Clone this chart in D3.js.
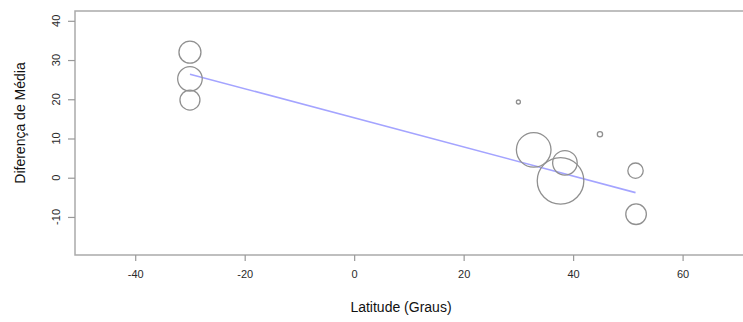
<!DOCTYPE html>
<html>
<head>
<meta charset="utf-8">
<script src="https://cdn.jsdelivr.net/npm/d3@7"></script>
<style>
  body { margin: 0; background: #fff; }
  svg { display: block; font-family: "Liberation Sans", Arial, sans-serif; }
</style>
</head>
<body>
<svg id="chart" width="743" height="322"></svg>
<script>
// estudos: latitude, diferença de média, tamanho (peso)
const latitude = [-30, -30, -30, 30, 32.8, 38.5, 37.7, 44.9, 51.4, 51.5];
const diferenca = [32, 25.2, 19.8, 19.3, 7.1, 3.8, -0.8, 11.1, 1.8, -9.3];
const peso = [121, 151, 100, 4, 300, 151, 543, 7, 59, 106];
const xTicks = [-40, -20, 0, 20, 40, 60];
const yTicks = [-10, 0, 10, 20, 30, 40];
const regLat = [-30, 51.4];
const regDif = [26.4, -3.8];

const svg = d3.select('#chart');
const mLeft = 75, mRight = 745, mTop = 11, mBottom = 255;

const x = d3.scaleLinear().domain([-51, 71.4]).range([mLeft, mRight]);
const y = d3.scaleLinear().domain([-19.7, 42.5]).range([mBottom, mTop]);
const r = d3.scaleSqrt().domain([0, d3.max(peso)]).range([0, 23.3]);

// box
svg.append('rect')
  .attr('x', mLeft).attr('y', mTop)
  .attr('width', mRight - mLeft).attr('height', mBottom - mTop)
  .attr('fill', 'none').attr('stroke', '#aaa').attr('stroke-width', 1.5);

// x axis
const xAxis = svg.append('g').attr('transform', `translate(0,${mBottom})`)
  .call(d3.axisBottom(x).tickValues(xTicks).tickSize(6).tickPadding(9).tickFormat(d => String(d)));
xAxis.select('.domain').remove();
xAxis.selectAll('line').attr('stroke', '#999').attr('stroke-width', 1.2);
xAxis.selectAll('text').attr('fill', '#2a2a2a').attr('font-size', 11)
  .attr('font-family', '"Liberation Sans", Arial, sans-serif');

// y axis (rotated labels like R)
const yAxis = svg.append('g').attr('transform', `translate(${mLeft},0)`)
  .call(d3.axisLeft(y).tickValues(yTicks).tickSize(7).tickFormat(d => ''));
yAxis.select('.domain').remove();
yAxis.selectAll('line').attr('stroke', '#999').attr('stroke-width', 1.2);
svg.append('g').selectAll('text').data(yTicks).join('text')
  .attr('transform', d => `translate(56,${y(d)}) rotate(-90)`)
  .attr('text-anchor', 'middle')
  .attr('dy', '0.35em')
  .attr('fill', '#2a2a2a').attr('font-size', 11)
  .text(d => String(d));

// regression line
svg.append('line')
  .attr('x1', x(regLat[0])).attr('y1', y(regDif[0]))
  .attr('x2', x(regLat[1])).attr('y2', y(regDif[1]))
  .attr('stroke', '#a4a4ff').attr('stroke-width', 1.6);

// bubbles
svg.append('g').selectAll('circle').data(latitude).join('circle')
  .attr('cx', d => x(d))
  .attr('cy', (d, i) => y(diferenca[i]))
  .attr('r', (d, i) => r(peso[i]))
  .attr('fill', 'none').attr('stroke', '#909090').attr('stroke-width', 1.3);

// labels
svg.append('text')
  .attr('x', 401).attr('y', 312)
  .attr('text-anchor', 'middle').attr('font-size', 14).attr('fill', '#111')
  .text('Latitude (Graus)');
svg.append('text')
  .attr('transform', 'translate(25,123) rotate(-90)')
  .attr('text-anchor', 'middle').attr('font-size', 14).attr('fill', '#111')
  .text('Diferença de Média');
</script>
</body>
</html>
